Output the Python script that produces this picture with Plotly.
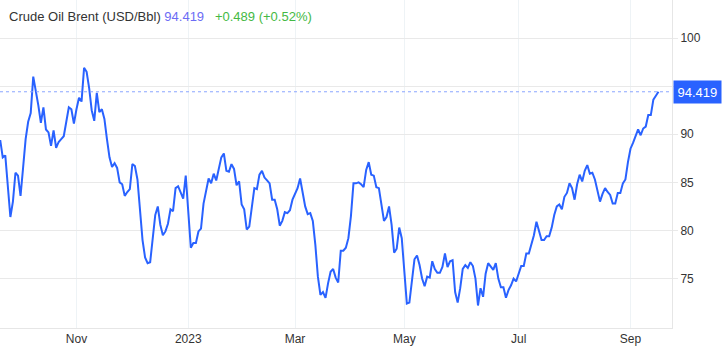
import pandas as pd
import plotly.graph_objects as go

# Brent daily close (USD/Bbl), trading days from 2022-09-20 to 2023-09-18
start_date = "2022-09-20"
prices = [
    89.4, 87.6, 87.8, 85.0, 81.4, 83.0, 86.0, 85.7, 83.6, 86.5,
    89.5, 91.3, 92.2, 96.0, 94.6, 93.0, 91.2, 92.8, 90.5, 90.2,
    88.8, 90.4, 88.6, 89.2, 89.5, 89.8, 91.3, 92.8, 92.6, 91.1,
    92.6, 93.8, 93.4, 96.9, 96.5, 94.8, 92.5, 91.4, 94.3, 92.3,
    92.6, 91.6, 89.5, 87.6, 86.6, 87.0, 86.5, 85.0, 84.8, 83.6,
    84.0, 84.3, 86.9, 86.7, 85.3, 81.9, 79.0, 77.2, 76.6, 76.7,
    79.1, 81.6, 82.5, 80.6, 79.5, 79.9, 80.7, 82.2, 82.0, 84.4,
    84.6, 84.0, 83.3, 85.7, 81.8, 78.2, 78.7, 78.7, 79.9, 80.2,
    82.8, 84.2, 85.4, 84.9, 85.9, 85.2, 86.5, 87.6, 88.0, 86.2,
    86.1, 86.9, 86.4, 84.7, 85.1, 82.7, 82.2, 80.1, 80.4, 82.5,
    84.4, 84.3, 85.8, 86.2, 85.5, 85.2, 84.9, 83.2, 83.2, 82.2,
    80.5, 81.0, 81.9, 81.8, 82.1, 83.2, 83.8, 84.4, 85.4, 84.0,
    82.5, 81.7, 81.8, 81.0, 78.5, 75.2, 73.3, 73.6, 73.0, 74.5,
    75.7, 76.0, 75.1, 74.6, 77.9, 77.9, 78.2, 79.2, 81.5, 84.9,
    84.9, 85.0, 84.8, 84.5, 86.3, 87.1, 85.8, 85.7, 84.5, 84.4,
    82.5, 81.0, 81.4, 82.5, 80.6, 77.7, 78.1, 80.3, 79.2, 75.8,
    72.4, 72.5, 75.0, 77.0, 77.4, 76.4, 75.0, 74.2, 75.2, 75.1,
    76.8, 76.0, 75.6, 75.6, 76.2, 77.6, 76.2, 76.8, 76.9, 73.6,
    72.5, 74.0, 76.0, 76.4, 76.1, 76.7, 76.3, 75.0, 72.2, 74.0,
    73.1, 75.5, 76.6, 76.3, 75.9, 76.6, 75.0, 74.1, 74.1, 73.0,
    73.8, 74.3, 75.0, 74.7, 75.6, 76.3, 76.3, 77.6, 77.6, 78.5,
    79.5, 80.9, 80.0, 79.0, 79.0, 79.4, 79.4, 80.3, 81.6, 82.5,
    82.7, 82.2, 83.5, 83.9, 84.9, 84.4, 83.2, 84.8, 85.8, 85.1,
    86.2, 86.8, 85.9, 86.0, 85.3, 84.0, 83.0, 83.8, 84.4, 84.0,
    83.7, 82.8, 82.8, 83.9, 83.9, 84.9, 85.3, 87.1, 88.5, 89.1,
    89.9, 90.5, 89.9, 90.6, 90.8, 92.0, 92.0, 93.6, 94.0, 94.419,
]
last_price = 94.419
change_text = "+0.489 (+0.52%)"
title_text = "Crude Oil Brent (USD/Bbl)"
y_ticks = [75, 80, 85, 90, 95, 100]
x_tick_months = ["2022-11-01", "2023-01-01", "2023-03-01", "2023-05-01", "2023-07-01", "2023-09-01"]
x_tick_labels = ["Nov", "2023", "Mar", "May", "Jul", "Sep"]

dates = pd.bdate_range(start=start_date, periods=len(prices))
# month starts falling on a weekend sit on the next trading day of the axis
x_tick_pos = [pd.Timestamp(d) + pd.offsets.BDay(0) for d in x_tick_months]

LINE = "#2962ff"
GRID = "#e9e9e9"
VGRID = "#eef3f6"
FONT = "Liberation Sans, Arial, sans-serif"

fig = go.Figure()
fig.add_trace(go.Scatter(
    x=dates, y=prices, mode="lines",
    line=dict(color=LINE, width=2),
    hoverinfo="skip", showlegend=False,
))

# dotted last-price line
fig.add_shape(type="line", xref="paper", x0=0, x1=1, yref="y",
              y0=last_price, y1=last_price,
              line=dict(color="#8aa5ff", width=1, dash="dot"))

# last-price tag on the axis
fig.add_annotation(xref="paper", x=1.0, y=last_price, yref="y",
                   xanchor="left", yanchor="middle", xshift=1,
                   text=f"{last_price:.3f}", showarrow=False,
                   font=dict(family=FONT, size=13, color="white"),
                   bgcolor=LINE, borderpad=3.5)

# header text
fig.add_annotation(xref="paper", yref="paper", x=0, y=1, xanchor="left",
                   yanchor="top", xshift=7, yshift=-7, showarrow=False,
                   text=(f"{title_text} <span style='color:#6c6cf5'>{last_price:.3f}</span>"
                         f"&nbsp;&nbsp;&nbsp;<span style='color:#44b944'>{change_text}</span>"),
                   font=dict(family=FONT, size=13, color="#333333"))

fig.update_layout(
    width=727, height=350,
    margin=dict(l=0, r=55, t=0, b=22),
    paper_bgcolor="white", plot_bgcolor="white",
    font=dict(family=FONT, size=12, color="#333333"),
    xaxis=dict(
        range=["2022-09-19 22:00", "2023-09-25 08:00"],
        rangebreaks=[dict(bounds=["sat", "mon"])],
        tickvals=x_tick_pos, ticktext=x_tick_labels,
        showgrid=True, gridcolor=VGRID, gridwidth=1,
        showline=True, linecolor="#e6e6e6", linewidth=1,
        ticks="", zeroline=False,
        tickfont=dict(size=12, color="#333333"),
    ),
    yaxis=dict(
        side="right", range=[69.86, 103.96],
        tickvals=y_ticks, showgrid=True, gridcolor=GRID,
        ticks="outside", ticklen=5, tickcolor=GRID,
        showline=True, linecolor="#e6e6e6", linewidth=1, mirror=False,
        zeroline=False, tickfont=dict(size=12, color="#333333"),
    ),
)

fig.write_html("out.html")
